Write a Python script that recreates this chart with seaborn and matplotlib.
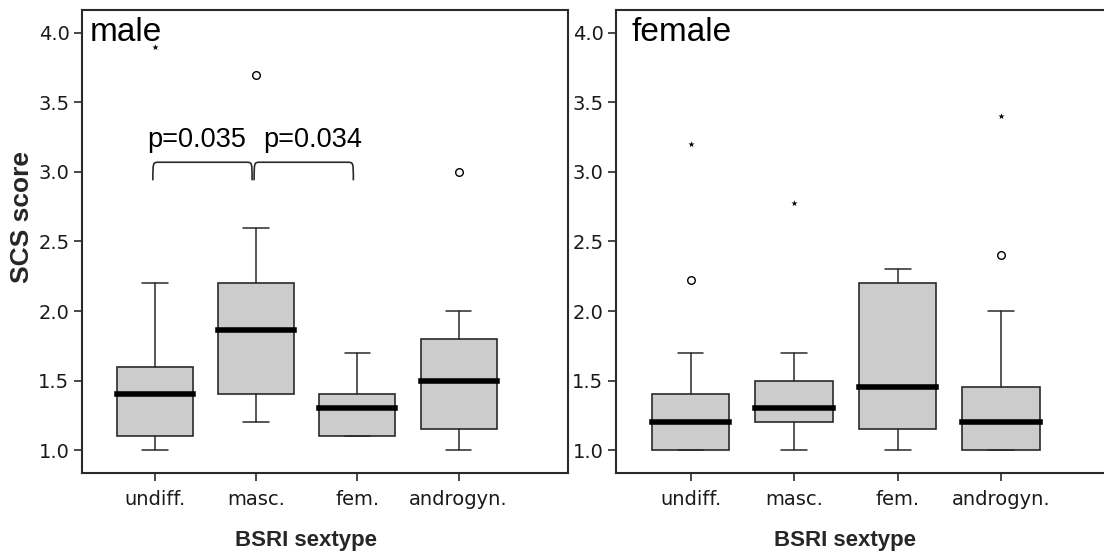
import matplotlib
matplotlib.use("Agg")
import matplotlib.pyplot as plt
import seaborn as sns
from matplotlib.path import Path
from matplotlib.patches import PathPatch

# ---------------- data ----------------
categories = ["undiff.", "masc.", "fem.", "androgyn."]

male_med = [1.40, 1.86, 1.30, 1.50]
male_q1 = [1.10, 1.40, 1.10, 1.15]
male_q3 = [1.60, 2.20, 1.40, 1.80]
male_whislo = [1.00, 1.20, 1.10, 1.00]
male_whishi = [2.20, 2.60, 1.70, 2.00]
male_outlier_cat = ["masc.", "androgyn."]
male_outlier_val = [3.70, 3.00]
male_extreme_cat = ["undiff."]
male_extreme_val = [3.90]

female_med = [1.20, 1.30, 1.45, 1.20]
female_q1 = [1.00, 1.20, 1.15, 1.00]
female_q3 = [1.40, 1.50, 2.20, 1.45]
female_whislo = [1.00, 1.00, 1.00, 1.00]
female_whishi = [1.70, 1.70, 2.30, 2.00]
female_outlier_cat = ["undiff.", "androgyn."]
female_outlier_val = [2.22, 2.40]
female_extreme_cat = ["undiff.", "masc.", "androgyn."]
female_extreme_val = [3.20, 2.78, 3.40]

yticks = [1.0, 1.5, 2.0, 2.5, 3.0, 3.5, 4.0]
panel_titles = ["male", "female"]
comparisons = [("undiff.", "masc."), ("masc.", "fem.")]
p_labels = ["p=0.035", "p=0.034"]
x_label = "BSRI sextype"
y_label = "SCS score"

# ---------------- style ----------------
sns.set_style("white")
plt.rcParams["font.family"] = ["DejaVu Sans"]
EDGE = "#2a2a2a"

W, H = 1104, 552
fig = plt.figure(figsize=(W / 100, H / 100), dpi=100)
ax1 = fig.add_axes([82 / W, 79 / H, 486 / W, 463 / H])
ax2 = fig.add_axes([616 / W, 79 / H, 497 / W, 463 / H])

panels = [
    (ax1, male_med, male_q1, male_q3, male_whislo, male_whishi,
     male_outlier_cat, male_outlier_val, male_extreme_cat, male_extreme_val),
    (ax2, female_med, female_q1, female_q3, female_whislo, female_whishi,
     female_outlier_cat, female_outlier_val, female_extreme_cat, female_extreme_val),
]

pos = {c: i for i, c in enumerate(categories)}

for k, (ax, med, q1, q3, lo, hi, oc, ov, ec, ev) in enumerate(panels):
    stats = []
    for i, c in enumerate(categories):
        stats.append(dict(label=c, med=med[i], q1=q1[i], q3=q3[i],
                          whislo=lo[i], whishi=hi[i], fliers=[]))
    ax.bxp(stats, positions=list(range(len(categories))), widths=0.75,
           patch_artist=True, showfliers=False, capwidths=0.25,
           boxprops=dict(facecolor="#cccccc", edgecolor=EDGE, linewidth=1.2),
           whiskerprops=dict(color=EDGE, linewidth=1.1),
           capprops=dict(color=EDGE, linewidth=1.1),
           medianprops=dict(color="black", linewidth=4.0, solid_capstyle="projecting"),
           zorder=2)
    sns.scatterplot(x=[pos[c] for c in oc], y=ov, ax=ax, marker="o", s=30,
                    facecolor="white", edgecolor="black", linewidth=1.0,
                    zorder=3, legend=False)
    sns.scatterplot(x=[pos[c] for c in ec], y=ev, ax=ax, marker="*", s=22,
                    color="black", linewidth=0, zorder=3, legend=False)

    ax.set_xlim(-0.72, 4.08)
    ax.set_ylim(0.835, 4.165)
    ax.set_xticks(range(len(categories)))
    ax.set_xticklabels(categories)
    ax.set_yticks(yticks)
    ax.set_yticklabels([f"{v:.1f}" for v in yticks])
    ax.tick_params(axis="both", direction="out", length=6, width=1.2,
                   color=EDGE, labelsize=14, labelcolor="#1a1a1a", pad=3,
                   bottom=True, left=True, top=False, right=False)
    ax.tick_params(axis="x", pad=6)
    for sp in ax.spines.values():
        sp.set_visible(True)
        sp.set_color(EDGE)
        sp.set_linewidth(1.5)

    ax.set_xlabel(x_label, fontsize=16, fontweight="bold",
                  family="Liberation Sans")
    ax.xaxis.set_label_coords(0.46, -0.145)
    ax.xaxis.label.set_va("center")
    if k == 0:
        ax.set_ylabel(y_label, fontsize=19, fontweight="bold",
                      family="Liberation Sans")
        ax.yaxis.set_label_coords(-0.123, 0.553)
        ax.yaxis.label.set_va("center")
    else:
        ax.set_ylabel("")

    ax.text(0.016 if k == 0 else 0.032, 0.985, panel_titles[k],
            transform=ax.transAxes, ha="left", va="top", fontsize=24,
            family="Liberation Sans", color="black", zorder=4)

# significance brackets on the male panel
y0, y1 = 2.94, 3.07
text_shift = [-0.06, 0.09]
for (a, b), lab, sh in zip(comparisons, p_labels, text_shift):
    xa, xb = pos[a] - 0.02, pos[b] - 0.04
    d = 0.06
    verts = [(xa, y0), (xa, y1), (xa, y1), (xa + d, y1),
             (xb - d, y1),
             (xb, y1), (xb, y1), (xb, y0)]
    codes = [Path.MOVETO, Path.CURVE4, Path.CURVE4, Path.CURVE4,
             Path.LINETO,
             Path.CURVE4, Path.CURVE4, Path.CURVE4]
    ax1.add_patch(PathPatch(Path(verts, codes), facecolor="none",
                            edgecolor=EDGE, linewidth=1.2, zorder=3))
    ax1.text((xa + xb) / 2 + sh, 3.18, lab, ha="center", va="baseline",
             fontsize=19.5, family="Liberation Sans", color="black")

fig.savefig("out.png", dpi=100)
